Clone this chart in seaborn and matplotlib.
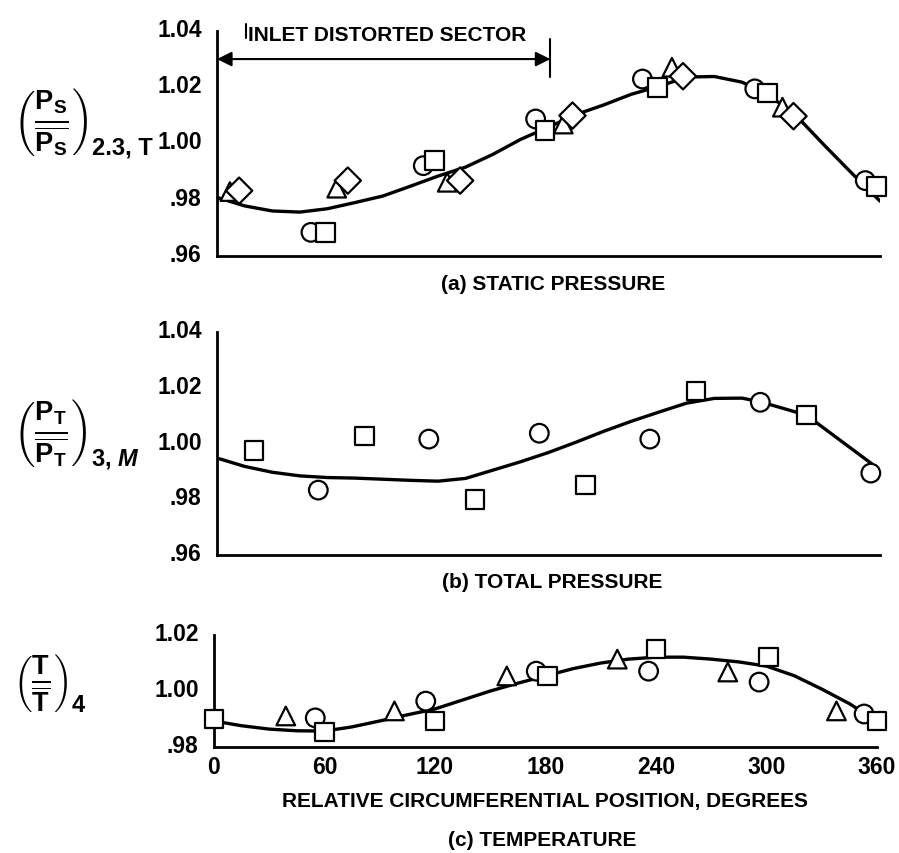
import pandas as pd
import matplotlib.pyplot as plt
import matplotlib.transforms as mtrans
import seaborn as sns

sns.set_theme(style="white")
plt.rcParams['font.family'] = ['Liberation Sans', 'DejaVu Sans']
plt.rcParams['font.weight'] = 'bold'
plt.rcParams['axes.labelweight'] = 'bold'
plt.rcParams['text.color'] = 'black'
plt.rcParams['axes.labelcolor'] = 'black'
plt.rcParams['mathtext.fontset'] = 'custom'
plt.rcParams['mathtext.rm'] = 'Liberation Sans:bold'
plt.rcParams['mathtext.it'] = 'Liberation Sans:italic:bold'
plt.rcParams['mathtext.bf'] = 'Liberation Sans:bold'

# (a) static pressure
a_circle_deg = [51, 112, 173, 231, 292, 352]
a_circle_val = [0.9684, 0.9921, 1.0087, 1.0229, 1.0194, 0.9868]
a_square_deg = [59, 118, 178, 239, 299, 358]
a_square_val = [0.9684, 0.9939, 1.0046, 1.0200, 1.0180, 0.9846]
a_triangle_deg = [7, 65, 125, 188, 247, 307]
a_triangle_val = [0.9829, 0.9841, 0.9862, 1.0069, 1.0271, 1.0129]
a_diamond_deg = [12, 71, 132, 193, 253, 313]
a_diamond_val = [0.9832, 0.9868, 0.9868, 1.0099, 1.0239, 1.0097]
a_curve_deg = [0, 15, 30, 45, 60, 75, 90, 105, 120, 135, 150, 165, 180,
               195, 210, 225, 240, 255, 270, 285, 300, 315, 330, 345, 360]
a_curve_val = [0.9808, 0.9778, 0.9760, 0.9756, 0.9768, 0.9790, 0.9813, 0.9848,
               0.9884, 0.9916, 0.9962, 1.0015, 1.0058, 1.0103, 1.0137, 1.0175,
               1.0203, 1.0236, 1.0238, 1.0218, 1.0170, 1.0095, 0.9992, 0.9892, 0.9795]

# (b) total pressure
b_circle_deg = [55, 115, 175, 235, 295, 355]
b_circle_val = [0.9833, 1.0016, 1.0037, 1.0016, 1.0148, 0.9894]
b_square_deg = [20, 80, 140, 200, 260, 320]
b_square_val = [0.9976, 1.0027, 0.9800, 0.9851, 1.0188, 1.0102]
b_curve_deg = [0, 15, 30, 45, 60, 75, 90, 105, 120, 135, 150, 165, 180,
               195, 210, 225, 240, 255, 270, 285, 295, 320, 356]
b_curve_val = [0.9948, 0.9918, 0.9897, 0.9884, 0.9878, 0.9876, 0.9872, 0.9868,
               0.9865, 0.9875, 0.9905, 0.9935, 0.9968, 1.0005, 1.0044, 1.0080,
               1.0113, 1.0145, 1.0162, 1.0163, 1.0150, 1.0102, 0.9925]

# (c) temperature
c_circle_deg = [55, 115, 175, 236, 296, 353]
c_circle_val = [0.9904, 0.9964, 1.0071, 1.0071, 1.0032, 0.9918]
c_square_deg = [0, 60, 120, 181, 240, 301, 360]
c_square_val = [0.9900, 0.9854, 0.9893, 1.0054, 1.0150, 1.0121, 0.9893]
c_triangle_deg = [39, 98, 159, 219, 279, 338]
c_triangle_val = [0.9911, 0.9929, 1.0054, 1.0114, 1.0068, 0.9929]
c_curve_deg = [0, 15, 30, 45, 60, 75, 90, 105, 120, 135, 150, 165, 180,
               195, 210, 225, 240, 255, 270, 285, 300, 315, 330, 345, 358]
c_curve_val = [0.9893, 0.9876, 0.9864, 0.9858, 0.9857, 0.9872, 0.9893, 0.9915,
               0.9936, 0.9968, 1.0000, 1.0028, 1.0054, 1.0080, 1.0100, 1.0114,
               1.0121, 1.0121, 1.0114, 1.0104, 1.0089, 1.0055, 1.0007, 0.9955, 0.9900]

x_ticks = [0, 60, 120, 180, 240, 300, 360]
y_ticks_p = [0.96, 0.98, 1.00, 1.02, 1.04]
y_labels_p = [".96", ".98", "1.00", "1.02", "1.04"]
y_ticks_t = [0.98, 1.00, 1.02]
y_labels_t = [".98", "1.00", "1.02"]

markers = {"circle": "o", "square": "s", "triangle": "^", "diamond": "D"}


def points(**series):
    frames = []
    for name, (deg, val) in series.items():
        frames.append(pd.DataFrame({"deg": deg, "val": val, "probe": name}))
    return pd.concat(frames, ignore_index=True)


def panel(ax, df, cdeg, cval, yticks, ylabels, show_x):
    sns.lineplot(x=cdeg, y=cval, color="black", lw=2.4, ax=ax, sort=False, zorder=2)
    sns.scatterplot(data=df, x="deg", y="val", style="probe", markers=markers,
                    s=180, color="white", edgecolor="black", linewidth=1.6,
                    legend=False, ax=ax, zorder=3, clip_on=False)
    ax.set_xlim(0, 360)
    ax.set_ylim(yticks[0], yticks[-1])
    ax.set_xticks(x_ticks)
    ax.set_yticks(yticks, ylabels)
    ax.set_xlabel("")
    ax.set_ylabel("")
    sns.despine(ax=ax)
    for s in ["left", "bottom"]:
        ax.spines[s].set_linewidth(2.0)
        ax.spines[s].set_color("black")
    ax.tick_params(axis="both", direction="in", length=21, width=1.8,
                   colors="black", labelsize=16.5)
    ax.tick_params(axis="y", pad=11)
    ax.tick_params(axis="x", pad=6, labelbottom=show_x)
    ax.set_facecolor("white")
    # tick labels in the original sit a little above their ticks
    shift = mtrans.ScaledTranslation(0, 4 / 100, ax.figure.dpi_scale_trans)
    for lab in ax.get_yticklabels():
        lab.set_transform(lab.get_transform() + shift)


fig = plt.figure(figsize=(8.99, 8.54), dpi=100)
ax_a = fig.add_axes([0.2414, 0.6991, 0.7375, 0.2635])
ax_b = fig.add_axes([0.2414, 0.3489, 0.7375, 0.2611])
ax_c = fig.add_axes([0.2380, 0.1241, 0.7375, 0.1311])

df_a = points(circle=(a_circle_deg, a_circle_val), square=(a_square_deg, a_square_val),
              triangle=(a_triangle_deg, a_triangle_val), diamond=(a_diamond_deg, a_diamond_val))
df_b = points(circle=(b_circle_deg, b_circle_val), square=(b_square_deg, b_square_val))
df_c = points(circle=(c_circle_deg, c_circle_val), square=(c_square_deg, c_square_val),
              triangle=(c_triangle_deg, c_triangle_val))

panel(ax_a, df_a, a_curve_deg, a_curve_val, y_ticks_p, y_labels_p, False)
panel(ax_b, df_b, b_curve_deg, b_curve_val, y_ticks_p, y_labels_p, False)
panel(ax_c, df_c, c_curve_deg, c_curve_val, y_ticks_t, y_labels_t, True)
ax_a.yaxis.get_major_ticks()[1].tick1line.set_visible(False)

# inlet distorted sector
ax_a.annotate("", xy=(0, 1.030), xytext=(181, 1.030),
              arrowprops=dict(arrowstyle="<|-|>", color="black", lw=1.5,
                              shrinkA=0, shrinkB=0, mutation_scale=22))
ax_a.plot([181, 181], [1.0236, 1.0372], color="black", lw=1.5, clip_on=False)
ax_a.plot([15.5, 15.5], [1.0375, 1.0425], color="black", lw=1.5, clip_on=False)
ax_a.text(17, 1.0386, "INLET DISTORTED SECTOR", fontsize=15, va="center", ha="left")

ax_c.set_xlabel("RELATIVE CIRCUMFERENTIAL POSITION, DEGREES", fontsize=15,
                fontweight="bold", labelpad=9)

fig.text(0.615, 0.667, "(a) STATIC PRESSURE", fontsize=15, ha="center", va="center")
fig.text(0.614, 0.318, "(b) TOTAL PRESSURE", fontsize=15, ha="center", va="center")
fig.text(0.603, 0.016, "(c) TEMPERATURE", fontsize=15, ha="center", va="center")

# y labels: bracketed ratio plus station subscript
ylabels = [
    (0.857, r"$\left(\frac{\mathrm{P}_\mathrm{S}}{\overline{\mathrm{P}_\mathrm{S}}}\right)$", "2.3, T"),
    (0.492, r"$\left(\frac{\mathrm{P}_\mathrm{T}}{\overline{\mathrm{P}_\mathrm{T}}}\right)$", r"3, $M$"),
    (0.200, r"$\left(\frac{\mathrm{T}}{\overline{\mathrm{T}}}\right)$", "4"),
]
for ypos, body, sub in ylabels:
    t = fig.text(0.015, ypos, body, fontsize=28, va="center", ha="left")
    ax_a.annotate(sub, xy=(1, 0.14), xycoords=t, xytext=(2, 0),
                  textcoords="offset points", fontsize=17, va="center", ha="left",
                  annotation_clip=False)

fig.savefig("out.png", dpi=100, facecolor="white")
